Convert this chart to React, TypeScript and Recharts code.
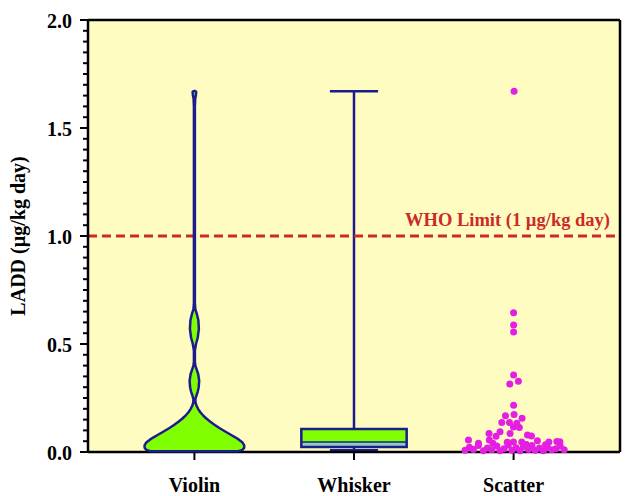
import React from 'react'
import {
  ComposedChart,
  XAxis,
  YAxis,
  CartesianGrid,
  Scatter,
  ReferenceArea,
  ReferenceLine,
} from 'recharts'

const categories = ['Violin', 'Whisker', 'Scatter']
const categoryX = [1, 2, 3]
const minorTicks = Array.from({ length: 41 }, (_, i) => i / 20)

// violin profile: level (µg/kg day) and half width (x units)
const violinLevels = [
  0.004, 0.01, 0.02, 0.032, 0.045, 0.056, 0.068, 0.08, 0.095, 0.11, 0.125, 0.14, 0.155,
  0.17, 0.185, 0.2, 0.215, 0.23, 0.245, 0.26, 0.28, 0.3, 0.33, 0.36, 0.38, 0.4, 0.42,
  0.47, 0.5, 0.53, 0.57, 0.61, 0.64, 0.66, 0.69, 1.6, 1.635, 1.655, 1.668, 1.672,
]
const violinHalfWidth = [
  0.275, 0.302, 0.312, 0.312, 0.3, 0.281, 0.256, 0.228, 0.193, 0.159, 0.128, 0.1, 0.075,
  0.054, 0.036, 0.023, 0.013, 0.007, 0.006, 0.012, 0.021, 0.027, 0.03, 0.024, 0.015, 0.006,
  0.003, 0.003, 0.01, 0.021, 0.028, 0.025, 0.015, 0.006, 0.003, 0.003, 0.005, 0.01, 0.011,
  0.0,
]

// whisker: min, q1, median, q3, max
const boxStats = [0.007, 0.023, 0.046, 0.106, 1.67]

const scatterX = [
  3.003, 3.0, 3.0, 3.0, 3.0, 3.03, 2.976, 3.0, 2.949, 3.003, 3.053, 2.926, 2.974, 3.02,
  2.999, 3.036, 2.915, 2.978, 2.846, 3.087, 3.112, 2.89, 2.717, 2.848, 2.999, 3.051, 3.149,
  3.221, 3.271, 3.29, 2.696, 2.723, 2.748, 2.779, 2.811, 2.836, 2.863, 2.895, 2.915, 2.94,
  2.967, 2.989, 3.016, 3.041, 3.062, 3.093, 3.115, 3.135, 3.162, 3.187, 3.212, 3.24, 3.266,
  3.292, 3.317, 2.78, 2.87, 3.08, 3.2, 2.96,
]
const scatterY = [
  1.67, 0.645, 0.588, 0.556, 0.356, 0.327, 0.315, 0.216, 0.168, 0.174, 0.156, 0.136, 0.136,
  0.133, 0.116, 0.114, 0.094, 0.086, 0.086, 0.079, 0.074, 0.073, 0.056, 0.056, 0.046, 0.046,
  0.052, 0.046, 0.049, 0.047, 0.008, 0.022, 0.012, 0.03, 0.006, 0.018, 0.01, 0.028, 0.006,
  0.015, 0.032, 0.008, 0.02, 0.006, 0.025, 0.012, 0.03, 0.008, 0.018, 0.006, 0.022, 0.01,
  0.015, 0.028, 0.01, 0.04, 0.04, 0.035, 0.033, 0.045,
]

const whoLimit = 1

const font = 'Liberation Serif, Times New Roman, serif'
const navy = '#1c1c8c'
const green = '#80ff00'
const teal = '#8ccfb4'
const magenta = '#e41fe4'
const red = '#cc2929'
const bg = '#fffcc2'
const axisStyle = { stroke: '#000', strokeWidth: 2.5 }

const violinOutline = [
  ...violinLevels.map((y, i) => ({ x: 1 + violinHalfWidth[i], y })),
  ...violinLevels.map((y, i) => ({ x: 1 - violinHalfWidth[i], y })).reverse(),
]
const scatterData = scatterX.map((x, i) => ({ x, y: scatterY[i] }))

const [bMin, bQ1, bMed, bQ3, bMax] = boxStats
const boxHalf = 0.33
const capHalf = 0.151

const isMajor = (v: number) => Math.abs(v * 2 - Math.round(v * 2)) < 1e-6

function LeftTick(props: any) {
  const { x, y, payload } = props
  const major = isMajor(payload.value)
  const len = major ? 8 : 5
  return (
    <g>
      <line x1={x - len} x2={x} y1={y} y2={y} stroke="#000" strokeWidth={2} />
      {major && (
        <text
          x={x - 16}
          y={y}
          dy="0.42em"
          textAnchor="end"
          fontFamily={font}
          fontWeight="bold"
          fontSize={20}
          fill="#000"
        >
          {payload.value.toFixed(1)}
        </text>
      )}
    </g>
  )
}

function RightTick(props: any) {
  const { x, y } = props
  return <line x1={x} x2={x + 5} y1={y} y2={y} stroke="#000" strokeWidth={2} />
}

export default function App() {
  return (
    <div style={{ position: 'absolute', left: 0, top: 0 }}>
      <ComposedChart width={625} height={496} margin={{ top: 12, right: 0, bottom: 0, left: 0 }}>
        <CartesianGrid fill={bg} horizontal={false} vertical={false} />
        <XAxis
          type="number"
          dataKey="x"
          domain={[1 / 3, 11 / 3]}
          ticks={categoryX}
          interval={0}
          height={44}
          tickSize={8}
          tickMargin={18}
          tickFormatter={(v: number) => categories[v - 1]}
          tick={{ fill: '#000', fontSize: 20, fontWeight: 'bold', fontFamily: font }}
          axisLine={axisStyle}
          tickLine={{ stroke: '#000', strokeWidth: 2 }}
        />
        <XAxis
          xAxisId="top"
          orientation="top"
          type="number"
          domain={[1 / 3, 11 / 3]}
          ticks={categoryX}
          interval={0}
          height={8}
          tickSize={8}
          tick={false}
          axisLine={axisStyle}
          tickLine={{ stroke: '#000', strokeWidth: 2 }}
        />
        <YAxis
          type="number"
          dataKey="y"
          domain={[0, 2]}
          ticks={minorTicks}
          interval={0}
          width={88}
          tickSize={0}
          tickMargin={0}
          tickLine={false}
          tick={<LeftTick />}
          axisLine={axisStyle}
          label={{
            value: 'LADD (µg/kg day)',
            angle: -90,
            position: 'insideLeft',
            offset: 18,
            style: { textAnchor: 'middle' },
            fill: '#000',
            fontSize: 20,
            fontWeight: 'bold',
            fontFamily: font,
          }}
        />
        <YAxis
          yAxisId="right"
          orientation="right"
          type="number"
          domain={[0, 2]}
          ticks={minorTicks}
          interval={0}
          width={5}
          tickSize={0}
          tickMargin={0}
          tickLine={false}
          tick={<RightTick />}
          axisLine={axisStyle}
        />

        <Scatter
          data={violinOutline}
          isAnimationActive={false}
          shape={() => <g />}
          line={{ fill: green, stroke: navy, strokeWidth: 2.5, strokeLinejoin: 'round' }}
          lineJointType="linearClosed"
        />

        <ReferenceArea x1={2 - boxHalf} x2={2 + boxHalf} y1={bQ1} y2={bMed} fill={teal} fillOpacity={1} stroke="none" />
        <ReferenceArea x1={2 - boxHalf} x2={2 + boxHalf} y1={bMed} y2={bQ3} fill={green} fillOpacity={1} stroke="none" />
        <ReferenceLine segment={[{ x: 2 - boxHalf, y: bMed }, { x: 2 + boxHalf, y: bMed }]} stroke={navy} strokeWidth={1.5} />
        <ReferenceArea x1={2 - boxHalf} x2={2 + boxHalf} y1={bQ1} y2={bQ3} fill="none" stroke={navy} strokeWidth={2.5} />
        <ReferenceLine segment={[{ x: 2, y: bQ3 }, { x: 2, y: bMax }]} stroke={navy} strokeWidth={2.5} />
        <ReferenceLine segment={[{ x: 2, y: bMin }, { x: 2, y: bQ1 }]} stroke={navy} strokeWidth={2.5} />
        <ReferenceLine segment={[{ x: 2 - capHalf, y: bMax }, { x: 2 + capHalf, y: bMax }]} stroke={navy} strokeWidth={2.5} />
        <ReferenceLine segment={[{ x: 2 - capHalf, y: bMin }, { x: 2 + capHalf, y: bMin }]} stroke={navy} strokeWidth={3} />

        <Scatter
          data={scatterData}
          isAnimationActive={false}
          shape={(p: any) => <circle cx={p.cx} cy={p.cy} r={3.5} fill={magenta} />}
        />

        <ReferenceLine
          y={whoLimit}
          stroke={red}
          strokeWidth={3}
          strokeDasharray="9 5"
          label={{
            value: 'WHO Limit (1 µg/kg day)',
            position: 'insideBottomRight',
            offset: 10,
            fill: red,
            fontSize: 18.5,
            fontWeight: 'bold',
            fontFamily: font,
          }}
        />
      </ComposedChart>
    </div>
  )
}
